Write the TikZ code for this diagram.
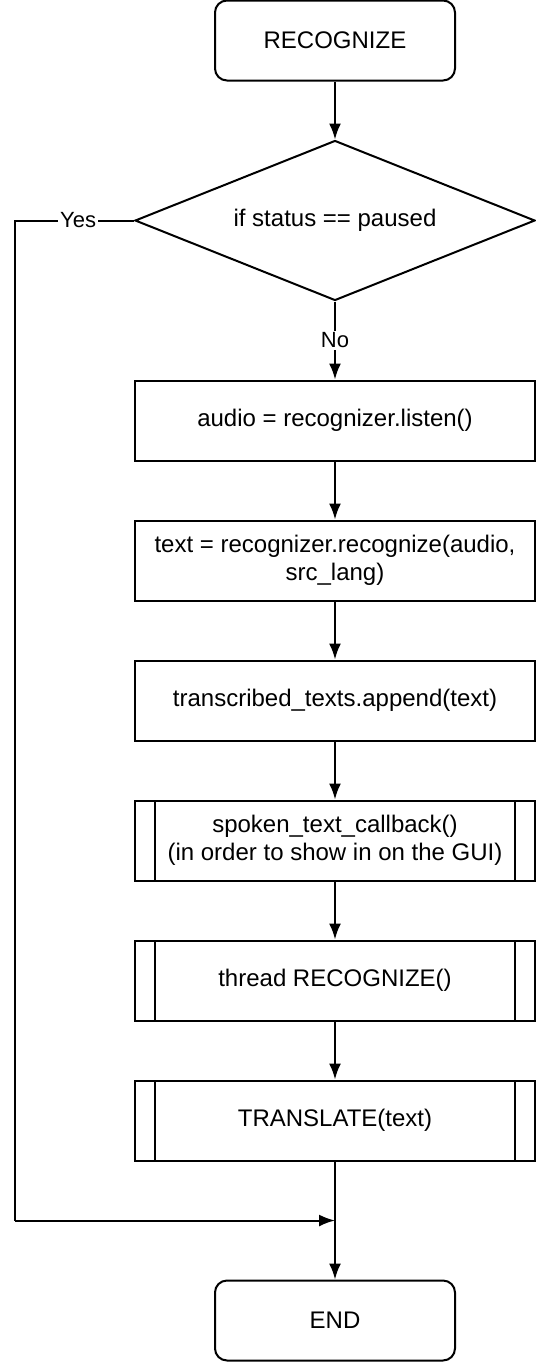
\documentclass[tikz,border=0pt]{standalone}
\usepackage{fontspec}
\setmainfont{Liberation Sans}
\usetikzlibrary{shapes.geometric,arrows.meta}
\begin{document}
\begin{tikzpicture}[x=0.5pt,y=-0.5pt,
  every node/.style={font=\fontsize{12pt}{14pt}\selectfont},
  line width=1pt,
  term/.style={draw,rounded corners=6pt,minimum width=120pt,minimum height=40pt,inner sep=0pt},
  decision/.style={draw,diamond,shape aspect=2.5,minimum width=200pt,minimum height=80pt,inner sep=0pt},
  stepbox/.style={draw,minimum width=200pt,minimum height=40pt,inner sep=0pt,align=center},
  procbox/.style={stepbox,path picture={
     \draw ([xshift=10pt]path picture bounding box.north west) -- ([xshift=10pt]path picture bounding box.south west);
     \draw ([xshift=-10pt]path picture bounding box.north east) -- ([xshift=-10pt]path picture bounding box.south east);}},
  arr/.style={-{Latex[length=8pt,width=6pt]}},
  lbl/.style={fill=white,inner sep=1pt,font=\fontsize{11pt}{13pt}\selectfont}
]
\useasboundingbox (0,0) rectangle (536,1362);
\node[term] (start) at (335,40.5) {RECOGNIZE};
\node[decision] (dec) at (335,220.5) {\raisebox{-1pt}{if status == paused}};
\node[stepbox] (listen) at (335,420.5) {audio = recognizer.listen()};
\node[stepbox] (rec) at (335,560.5) {text = recognizer.recognize(audio,\\src\_lang)};
\node[stepbox] (app) at (335,700.5) {transcribed\_texts.append(text)};
\node[procbox] (cb) at (335,840.5) {spoken\_text\_callback()\\(in order to show in on the GUI)};
\node[procbox] (thr) at (335,980.5) {thread RECOGNIZE()};
\node[procbox] (tr) at (335,1120.5) {TRANSLATE(text)};
\node[term] (end) at (335,1320.5) {END};
\coordinate (join) at (335,1220.5);
\coordinate (lc) at (15,220.5);
\coordinate (lb) at (15,1220.5);

\draw[arr] (start) -- (dec);
\draw[arr] (dec) -- node[lbl] {No} (listen);
\draw[arr] (listen) -- (rec);
\draw[arr] (rec) -- (app);
\draw[arr] (app) -- (cb);
\draw[arr] (cb) -- (thr);
\draw[arr] (thr) -- (tr);
\draw[arr] (tr) -- (end);
\draw (dec.west) -- node[lbl,pos=0.47] {Yes} (lc) -- (lb);
\draw[arr] (lb) -- (join);
\end{tikzpicture}
\end{document}
